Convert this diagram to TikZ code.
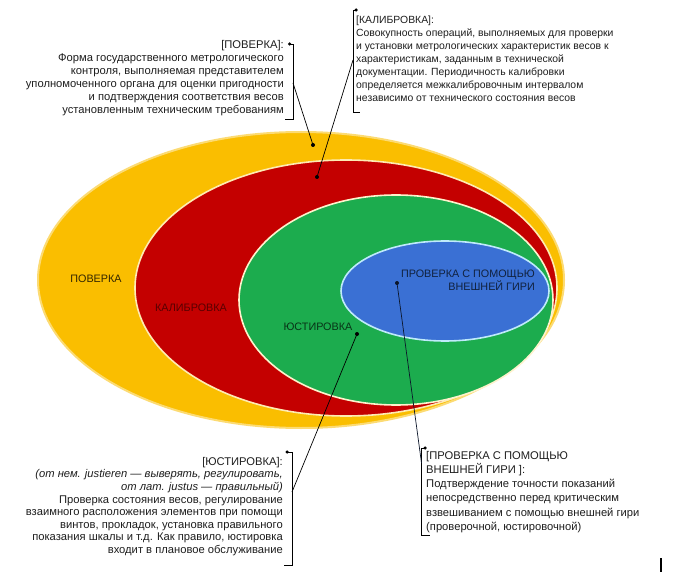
\documentclass[tikz,border=0pt]{standalone}
\usepackage{fontspec}
\setmainfont{Liberation Sans}
\definecolor{yel}{RGB}{250,190,0}
\definecolor{redE}{RGB}{196,0,0}
\definecolor{grnE}{RGB}{28,172,78}
\definecolor{bluE}{RGB}{58,112,212}
\definecolor{txt}{RGB}{30,30,30}
\begin{document}
\begin{tikzpicture}[x=1pt,y=-1pt,
  callout/.style={inner sep=0pt, text=txt},
  elab/.style={inner sep=0pt, font=\fontsize{10.8}{11}\selectfont},
  dot/.style={circle, fill=black, inner sep=0pt, minimum size=4pt},
  lead/.style={draw=black, line width=0.7pt},
  brk/.style={draw=black, line width=0.9pt},
  ring/.style={draw=white, line width=1.6pt}]
\useasboundingbox (0,0) rectangle (675,580);
\fill[white] (0,0) rectangle (675,580);
% ellipses
\draw[draw=yel!55, line width=2pt, fill=yel] (301,280) ellipse [x radius=263pt, y radius=148pt];
\draw[ring, draw=yel!30!white, fill=redE] (346,288) ellipse [x radius=211pt, y radius=128pt];
\draw[ring, draw=yel!20!white, fill=grnE] (396,300) ellipse [x radius=157pt, y radius=105pt];
\draw[ring, draw=cyan!25!white, fill=bluE] (445,291) ellipse [x radius=104pt, y radius=50pt];
% ellipse labels
\node[elab, text=black!80!yel] (lpov) at (96,279) {ПОВЕРКА};
\node[elab, text=redE!45!black] (lkal) at (191,308) {КАЛИБРОВКА};
\node[elab, text=grnE!30!black] (lyus) at (318,327) {ЮСТИРОВКА};
\node[elab, text=bluE!30!black, align=right, anchor=east, font=\fontsize{10.8}{11.5}\selectfont] (lpro) at (535,280) {ПРОВЕРКА С ПОМОЩЬЮ\\ВНЕШНЕЙ ГИРИ};
% dots in ellipses
\node[dot] (d1) at (313,145) {};
\node[dot] (d2) at (317,177) {};
\node[dot] (d3) at (357,334) {};
\node[dot, fill=black!80!bluE] (d4) at (397,283) {};
% callout texts
\node[callout, anchor=north east, align=right, font=\fontsize{11.2}{13.1}\selectfont] (t1) at (284,40)
 {[ПОВЕРКА]:\\Форма государственного метрологического\\контроля, выполняемая представителем\\уполномоченного органа для оценки пригодности\\и подтверждения соответствия весов\\установленным техническим требованиям};
\node[callout, anchor=north west, align=left, font=\fontsize{10.4}{13.1}\selectfont] (t2) at (356,15.5)
 {[КАЛИБРОВКА]:\\Совокупность операций, выполняемых для проверки\\и установки метрологических характеристик весов к\\характеристикам, заданным в технической\\документации. Периодичность калибровки\\определяется межкалибровочным интервалом\\независимо от технического состояния весов};
\node[callout, anchor=north east, align=right, font=\fontsize{11.2}{12.6}\selectfont] (t3) at (283,457)
 {[ЮСТИРОВКА]:\\\textit{(от нем. justieren — выверять, регулировать,}\\\textit{от лат. justus — правильный)}\\Проверка состояния весов, регулирование\\взаимного расположения элементов при помощи\\винтов, прокладок, установка правильного\\показания шкалы и т.д. Как правило, юстировка\\входит в плановое обслуживание};
\node[callout, anchor=north west, align=left, font=\fontsize{11.2}{14.2}\selectfont] (t4) at (426,451)
 {[ПРОВЕРКА С ПОМОЩЬЮ\\ВНЕШНЕЙ ГИРИ ]:\\Подтверждение точности показаний\\непосредственно перед критическим\\взвешиванием с помощью внешней гири\\(проверочной, юстировочной)};
% brackets
\node[dot, minimum size=3.5pt] (b1) at (289.5,44) {};
\draw[brk] (b1.center) -- (293,44) -- (293,119) -- (285,119);
\node[dot, minimum size=3.5pt] (b2) at (356,10) {};
\draw[brk] (b2.center) -- (353,10) -- (353,112) -- (360,112);
\node[dot, minimum size=3.5pt] (b3) at (287,452) {};
\draw[brk] (b3.center) -- (292,452) -- (292,565) -- (284,565);
\node[dot, minimum size=3.5pt] (b4) at (425,448) {};
\draw[brk] (b4.center) -- (421.5,448) -- (421.5,535) -- (430,535);
% leader attach points
\coordinate (c1) at (293,83);
\coordinate (c2) at (353,60);
\coordinate (c3) at (292,492);
\coordinate (c4) at (421.5,463);
\draw[lead] (c1) -- (d1.center);
\draw[lead] (c2) -- (d2.center);
\draw[lead] (c3) -- (d3.center);
\draw[lead, draw=black!80!bluE] (c4) -- (d4.center);
% stray mark
\draw[line width=1.8pt] (661,558) -- (661,572);
\end{tikzpicture}
\end{document}
